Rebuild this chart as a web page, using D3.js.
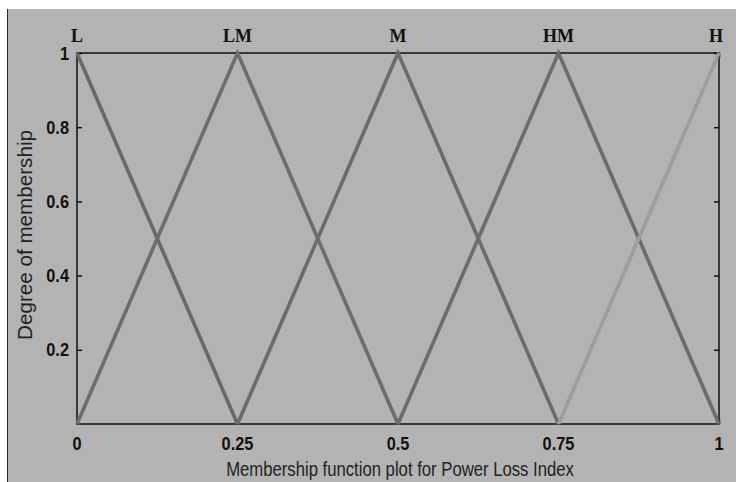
<!DOCTYPE html>
<html>
<head>
<meta charset="utf-8">
<script src="https://cdn.jsdelivr.net/npm/d3@7"></script>
<style>
  html, body { margin: 0; padding: 0; background: #ffffff; }
  svg { display: block; }
</style>
</head>
<body>
<svg id="chart" width="736" height="482"></svg>
<script>
// Membership function set names and their triangle vertices (x, degree)
const setNames = ["L", "LM", "M", "HM", "H"];
const setPeaks = [0, 0.25, 0.5, 0.75, 1];
const setPoints = [
  [[0, 1], [0.25, 0]],
  [[0, 0], [0.25, 1], [0.5, 0]],
  [[0.25, 0], [0.5, 1], [0.75, 0]],
  [[0.5, 0], [0.75, 1], [1, 0]],
  [[0.75, 0], [1, 1]]
];
const setColors = ["#696969", "#6d6d6d", "#6b6b6b", "#6c6c6c", "#9d9d9d"];
const xTicks = [0, 0.25, 0.5, 0.75, 1];
const xTickLabels = ["0", "0.25", "0.5", "0.75", "1"];
const yTicks = [0.2, 0.4, 0.6, 0.8, 1];
const yTickLabels = ["0.2", "0.4", "0.6", "0.8", "1"];

const svg = d3.select("#chart");
const W = 736, H = 482;
const plot = { left: 77, right: 719, top: 53, bottom: 424 };

// figure background panel
svg.append("rect").attr("x", 7).attr("y", 9).attr("width", W - 7).attr("height", H - 9)
  .attr("fill", "#b3b3b3");
svg.append("line").attr("x1", 7.5).attr("x2", 7.5).attr("y1", 9).attr("y2", H)
  .attr("stroke", "#2a2a2a").attr("stroke-width", 1);

const x = d3.scaleLinear().domain([0, 1]).range([plot.left, plot.right]);
const y = d3.scaleLinear().domain([0, 1]).range([plot.bottom, plot.top]);

const sansFont = "'Liberation Sans', Arial, sans-serif";
const NARROW = 0.86; // horizontal squeeze for the narrow lettering

// inward ticks on all four sides
const axisLeft = d3.axisRight(y).tickValues(yTicks).tickSize(5).tickFormat("");
const axisRight = d3.axisLeft(y).tickValues(yTicks).tickSize(5).tickFormat("");
const axisBottom = d3.axisTop(x).tickValues(xTicks).tickSize(5).tickFormat("");
const axisTop = d3.axisBottom(x).tickValues(xTicks).tickSize(5).tickFormat("");

function styleAxis(g) {
  g.select(".domain").remove();
  g.selectAll(".tick line").attr("stroke", "#111").attr("stroke-width", 1.5);
}
svg.append("g").attr("transform", `translate(${plot.left},0)`).call(axisLeft).call(styleAxis);
svg.append("g").attr("transform", `translate(${plot.right},0)`).call(axisRight).call(styleAxis);
svg.append("g").attr("transform", `translate(0,${plot.bottom})`).call(axisBottom).call(styleAxis);
svg.append("g").attr("transform", `translate(0,${plot.top})`).call(axisTop).call(styleAxis);

// plot box
svg.append("rect")
  .attr("x", plot.left).attr("y", plot.top)
  .attr("width", plot.right - plot.left).attr("height", plot.bottom - plot.top)
  .attr("fill", "none").attr("stroke", "#111").attr("stroke-width", 1.5);

// membership triangles
const line = d3.line().x(d => x(d[0])).y(d => y(d[1]));
svg.append("g").selectAll("path").data(setPoints).join("path")
  .attr("d", line)
  .attr("fill", "none")
  .attr("stroke", (d, i) => setColors[i])
  .attr("stroke-width", 3.6)
  .attr("stroke-linejoin", "miter");

// tick labels (bold, narrow)
svg.append("g").selectAll("text").data(yTicks).join("text")
  .attr("transform", d => `translate(${plot.left - 8},${y(d) + 6.5}) scale(${NARROW},1)`)
  .attr("text-anchor", "end")
  .attr("font-family", sansFont).attr("font-weight", "bold").attr("font-size", 19)
  .attr("fill", "#111")
  .text((d, i) => yTickLabels[i]);

svg.append("g").selectAll("text").data(xTicks).join("text")
  .attr("transform", d => `translate(${x(d)},${plot.bottom + 25.5}) scale(${NARROW},1)`)
  .attr("text-anchor", "middle")
  .attr("font-family", sansFont).attr("font-weight", "bold").attr("font-size", 19)
  .attr("fill", "#111")
  .text((d, i) => xTickLabels[i]);

// set names above each peak
svg.append("g").selectAll("text").data(setNames).join("text")
  .attr("x", (d, i) => x(setPeaks[i]) + (i === 4 ? -3 : 0))
  .attr("y", plot.top - 11)
  .attr("text-anchor", "middle")
  .attr("font-family", "'Liberation Serif', 'DejaVu Serif', serif")
  .attr("font-weight", "bold").attr("font-size", 18)
  .attr("fill", "#111")
  .text(d => d);

// axis titles, squeezed horizontally to the narrow face
function fitScale(sel, targetWidth) {
  return targetWidth / sel.node().getComputedTextLength();
}

const xTitle = svg.append("text")
  .attr("text-anchor", "middle")
  .attr("font-family", sansFont).attr("font-size", 20)
  .attr("fill", "#222")
  .text("Membership function plot for Power Loss Index");
xTitle.attr("transform", `translate(400,476) scale(${fitScale(xTitle, 348)},1)`);

const yTitle = svg.append("text")
  .attr("text-anchor", "middle")
  .attr("font-family", sansFont).attr("font-size", 20)
  .attr("fill", "#222")
  .text("Degree of membership");
yTitle.attr("transform", `translate(32,235) rotate(-90) scale(${fitScale(yTitle, 210)},1)`);
</script>
</body>
</html>
